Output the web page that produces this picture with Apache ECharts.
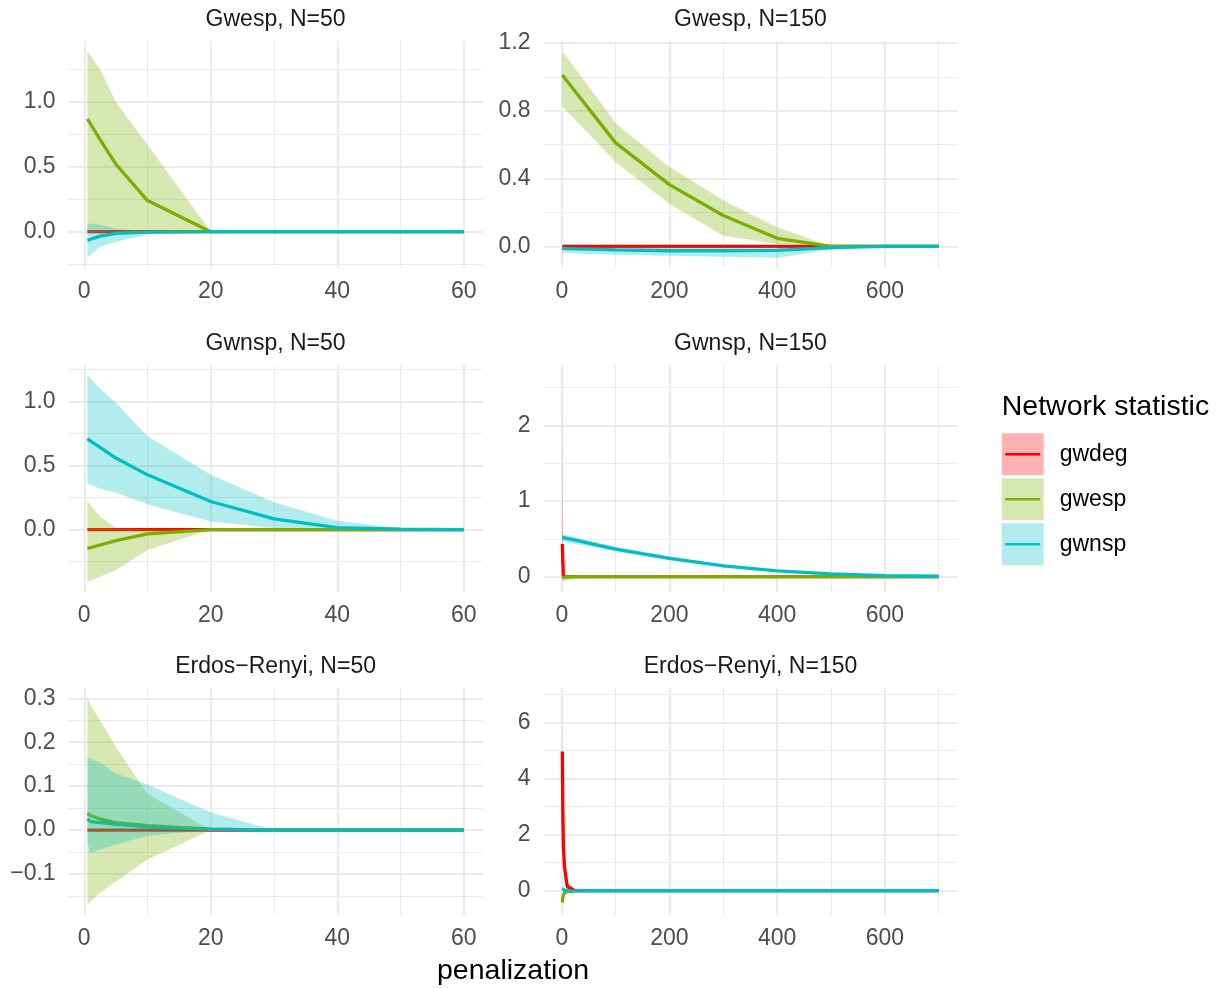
<!DOCTYPE html>
<html><head><meta charset="utf-8">
<script src="https://cdn.jsdelivr.net/npm/echarts@6/dist/echarts.min.js"></script>
<style>html,body{margin:0;padding:0;background:#fff}#c{width:1227px;height:988px}</style>
</head><body><div id="c"></div>
<script>
// ---------- data ----------
const statistics = ['gwdeg', 'gwesp', 'gwnsp'];
const panelTitles = ['Gwesp, N=50', 'Gwesp, N=150', 'Gwnsp, N=50', 'Gwnsp, N=150', 'Erdos\u2212Renyi, N=50', 'Erdos\u2212Renyi, N=150'];
const xTitle = 'penalization';
const legendTitle = 'Network statistic';

const penalty50 = [0.5, 1, 2.5, 5, 10, 20, 30, 40, 50, 60];
const penalty150 = [1, 2, 3, 5, 10, 25, 50, 100, 200, 300, 400, 500, 600, 700];

// Panel 1: Gwesp, N=50
const gwespN50_gwdeg_est = [0, 0, 0, 0, 0, 0, 0, 0, 0, 0];
const gwespN50_gwdeg_lo  = [-0.003, -0.002, -0.001, 0, 0, 0, 0, 0, 0, 0];
const gwespN50_gwdeg_hi  = [0.003, 0.002, 0.001, 0, 0, 0, 0, 0, 0, 0];
const gwespN50_gwesp_est = [0.87, 0.83, 0.71, 0.52, 0.24, 0.0, 0, 0, 0, 0];
const gwespN50_gwesp_lo  = [0, 0, 0, 0, 0, 0, 0, 0, 0, 0];
const gwespN50_gwesp_hi  = [1.39, 1.355, 1.25, 1.0, 0.67, 0.0, 0, 0, 0, 0];
const gwespN50_gwnsp_est = [-0.067, -0.058, -0.034, -0.013, -0.003, 0, 0, 0, 0, 0];
const gwespN50_gwnsp_lo  = [-0.2, -0.178, -0.115, -0.077, -0.02, 0, 0, 0, 0, 0];
const gwespN50_gwnsp_hi  = [0.064, 0.062, 0.055, 0.023, 0.005, 0, 0, 0, 0, 0];

// Panel 2: Gwesp, N=150
const gwespN150_gwdeg_est = [0, 0, 0, 0, 0, 0, 0, 0, 0, 0, 0, 0, 0, 0];
const gwespN150_gwdeg_lo  = [-0.06, -0.01, 0, 0, 0, 0, 0, 0, 0, 0, 0, 0, 0, 0];
const gwespN150_gwdeg_hi  = [0.01, 0, 0, 0, 0, 0, 0, 0, 0, 0, 0, 0, 0, 0];
const gwespN150_gwesp_est = [1.01, 1.006, 1.002, 0.994, 0.974, 0.913, 0.812, 0.61, 0.364, 0.182, 0.047, 0.0, 0.0, 0.0];
const gwespN150_gwesp_lo  = [0.824, 0.821, 0.818, 0.811, 0.795, 0.746, 0.664, 0.498, 0.251, 0.063, 0.014, 0.0, 0.0, 0.0];
const gwespN150_gwesp_hi  = [1.15, 1.146, 1.141, 1.133, 1.112, 1.048, 0.942, 0.726, 0.468, 0.271, 0.113, 0.0, 0.0, 0.0];
const gwespN150_gwnsp_est = [-0.01, -0.011, -0.011, -0.012, -0.013, -0.015, -0.017, -0.021, -0.026, -0.026, -0.024, -0.008, 0, 0];
const gwespN150_gwnsp_lo  = [-0.035, -0.036, -0.037, -0.038, -0.04, -0.043, -0.046, -0.05, -0.055, -0.062, -0.067, -0.02, 0, 0];
const gwespN150_gwnsp_hi  = [-0.002, -0.002, -0.002, -0.002, -0.003, -0.004, -0.005, -0.006, -0.006, -0.005, -0.004, -0.002, 0, 0];

// Panel 3: Gwnsp, N=50
const gwnspN50_gwdeg_est = [0, 0, 0, 0, 0, 0, 0, 0, 0, 0];
const gwnspN50_gwdeg_lo  = [0, 0, 0, 0, 0, 0, 0, 0, 0, 0];
const gwnspN50_gwdeg_hi  = [0, 0, 0, 0, 0, 0, 0, 0, 0, 0];
const gwnspN50_gwesp_est = [-0.146, -0.14, -0.12, -0.086, -0.034, 0, 0, 0, 0, 0];
const gwnspN50_gwesp_lo  = [-0.406, -0.395, -0.367, -0.315, -0.159, 0, 0, 0, 0, 0];
const gwnspN50_gwesp_hi  = [0.224, 0.19, 0.1, 0.01, 0.0, 0, 0, 0, 0, 0];
const gwnspN50_gwnsp_est = [0.709, 0.69, 0.642, 0.558, 0.427, 0.219, 0.084, 0.016, 0.003, 0.0];
const gwnspN50_gwnsp_lo  = [0.357, 0.347, 0.318, 0.29, 0.198, 0.064, 0.012, 0.0, 0.0, 0.0];
const gwnspN50_gwnsp_hi  = [1.203, 1.18, 1.1, 0.99, 0.727, 0.427, 0.214, 0.07, 0.01, 0.0];

// Panel 4: Gwnsp, N=150
const gwnspN150_gwdeg_est = [0.43, 0.2, 0.0, 0, 0, 0, 0, 0, 0, 0, 0, 0, 0, 0];
const gwnspN150_gwdeg_lo  = [-0.05, -0.02, 0, 0, 0, 0, 0, 0, 0, 0, 0, 0, 0, 0];
const gwnspN150_gwdeg_hi  = [2.66, 1.0, 0.05, 0, 0, 0, 0, 0, 0, 0, 0, 0, 0, 0];
const gwnspN150_gwesp_est = [-0.02, -0.015, -0.01, -0.006, -0.003, -0.001, 0, 0, 0, 0, 0, 0, 0, 0];
const gwnspN150_gwesp_lo  = [-0.067, -0.064, -0.062, -0.058, -0.05, -0.025, -0.005, 0, 0, 0, 0, 0, 0, 0];
const gwnspN150_gwesp_hi  = [0.01, 0.008, 0.006, 0.004, 0.002, 0, 0, 0, 0, 0, 0, 0, 0, 0];
const gwnspN150_gwnsp_est = [0.518, 0.517, 0.516, 0.513, 0.504, 0.481, 0.442, 0.364, 0.24, 0.142, 0.076, 0.036, 0.014, 0.005];
const gwnspN150_gwnsp_lo  = [0.465, 0.464, 0.463, 0.46, 0.452, 0.433, 0.4, 0.334, 0.218, 0.126, 0.065, 0.029, 0.01, 0.003];
const gwnspN150_gwnsp_hi  = [0.563, 0.562, 0.561, 0.557, 0.547, 0.521, 0.478, 0.394, 0.262, 0.158, 0.087, 0.043, 0.018, 0.007];

// Panel 5: Erdos-Renyi, N=50
const erN50_gwdeg_est = [0, 0, 0, 0, 0, 0, 0, 0, 0, 0];
const erN50_gwdeg_lo  = [0, 0, 0, 0, 0, 0, 0, 0, 0, 0];
const erN50_gwdeg_hi  = [0, 0, 0, 0, 0, 0, 0, 0, 0, 0];
const erN50_gwesp_est = [0.038, 0.033, 0.025, 0.017, 0.01, 0.002, 0, 0, 0, 0];
const erN50_gwesp_lo  = [-0.17, -0.163, -0.143, -0.117, -0.067, 0, 0, 0, 0, 0];
const erN50_gwesp_hi  = [0.3, 0.285, 0.25, 0.189, 0.082, 0, 0, 0, 0, 0];
const erN50_gwnsp_est = [0.026, 0.019, 0.017, 0.013, 0.007, 0.002, 0, 0, 0, 0];
const erN50_gwnsp_lo  = [-0.03, -0.052, -0.045, -0.033, -0.013, 0, 0, 0, 0, 0];
const erN50_gwnsp_hi  = [0.166, 0.163, 0.153, 0.129, 0.104, 0.04, 0, 0, 0, 0];

// Panel 6: Erdos-Renyi, N=150
const erN150_gwdeg_est = [4.97, 2.76, 1.6, 0.86, 0.15, 0.0, 0, 0, 0, 0, 0, 0, 0, 0];
const erN150_gwdeg_lo  = [3.2, 1.7, 0.9, 0.45, 0.06, 0, 0, 0, 0, 0, 0, 0, 0, 0];
const erN150_gwdeg_hi  = [6.87, 3.9, 2.3, 1.2, 0.3, 0.02, 0, 0, 0, 0, 0, 0, 0, 0];
const erN150_gwesp_est = [-0.42, -0.25, -0.17, -0.08, -0.03, -0.005, 0, 0, 0, 0, 0, 0, 0, 0];
const erN150_gwesp_lo  = [-0.5, -0.33, -0.23, -0.11, -0.045, -0.01, 0, 0, 0, 0, 0, 0, 0, 0];
const erN150_gwesp_hi  = [-0.3, -0.17, -0.11, -0.05, -0.015, 0, 0, 0, 0, 0, 0, 0, 0, 0];
const erN150_gwnsp_est = [0.08, 0.05, 0.03, 0.02, 0.005, 0, 0, 0, 0, 0, 0, 0, 0, 0];
const erN150_gwnsp_lo  = [-0.05, -0.04, -0.03, -0.015, -0.005, 0, 0, 0, 0, 0, 0, 0, 0, 0];
const erN150_gwnsp_hi  = [0.22, 0.15, 0.1, 0.06, 0.02, 0, 0, 0, 0, 0, 0, 0, 0, 0];

// ---------- assembly ----------
const panelData = [
  { x: penalty50,  gwdeg: [gwespN50_gwdeg_est, gwespN50_gwdeg_lo, gwespN50_gwdeg_hi], gwesp: [gwespN50_gwesp_est, gwespN50_gwesp_lo, gwespN50_gwesp_hi], gwnsp: [gwespN50_gwnsp_est, gwespN50_gwnsp_lo, gwespN50_gwnsp_hi] },
  { x: penalty150, gwdeg: [gwespN150_gwdeg_est, gwespN150_gwdeg_lo, gwespN150_gwdeg_hi], gwesp: [gwespN150_gwesp_est, gwespN150_gwesp_lo, gwespN150_gwesp_hi], gwnsp: [gwespN150_gwnsp_est, gwespN150_gwnsp_lo, gwespN150_gwnsp_hi] },
  { x: penalty50,  gwdeg: [gwnspN50_gwdeg_est, gwnspN50_gwdeg_lo, gwnspN50_gwdeg_hi], gwesp: [gwnspN50_gwesp_est, gwnspN50_gwesp_lo, gwnspN50_gwesp_hi], gwnsp: [gwnspN50_gwnsp_est, gwnspN50_gwnsp_lo, gwnspN50_gwnsp_hi] },
  { x: penalty150, gwdeg: [gwnspN150_gwdeg_est, gwnspN150_gwdeg_lo, gwnspN150_gwdeg_hi], gwesp: [gwnspN150_gwesp_est, gwnspN150_gwesp_lo, gwnspN150_gwesp_hi], gwnsp: [gwnspN150_gwnsp_est, gwnspN150_gwnsp_lo, gwnspN150_gwnsp_hi] },
  { x: penalty50,  gwdeg: [erN50_gwdeg_est, erN50_gwdeg_lo, erN50_gwdeg_hi], gwesp: [erN50_gwesp_est, erN50_gwesp_lo, erN50_gwesp_hi], gwnsp: [erN50_gwnsp_est, erN50_gwnsp_lo, erN50_gwnsp_hi] },
  { x: penalty150, gwdeg: [erN150_gwdeg_est, erN150_gwdeg_lo, erN150_gwdeg_hi], gwesp: [erN150_gwesp_est, erN150_gwesp_lo, erN150_gwesp_hi], gwnsp: [erN150_gwnsp_est, erN150_gwnsp_lo, erN150_gwnsp_hi] }
];

// ---------- styling / layout ----------
const FONT = '"Liberation Sans", Arial, Helvetica, sans-serif';
const lineColor = { gwdeg: '#FF0000', gwesp: '#7CAE00', gwnsp: '#00BFC4' };
const fillColor = { gwdeg: 'rgba(255,0,0,0.3)', gwesp: 'rgba(124,174,0,0.3)', gwnsp: 'rgba(0,191,196,0.3)' };
const COL_LEFT = [68.6, 543.5], COL_W = 414;
const ROW_TOP = [41, 365, 688], ROW_H = 227;
const xStep = [20, 200, 20, 200, 20, 200];
const yStep = [0.5, 0.4, 0.5, 1, 0.1, 2];
const yDec  = [1, 1, 1, 0, 1, 0];

function fmt(v, dec) {
  if (Math.abs(v) < 1e-9) v = 0;
  return v.toFixed(dec).replace('-', '\u2212');
}
function expand(arrs) {
  let lo = Infinity, hi = -Infinity;
  arrs.forEach(a => a.forEach(v => { if (v < lo) lo = v; if (v > hi) hi = v; }));
  const pad = (hi - lo) * 0.05;
  return [lo - pad, hi + pad];
}

const grids = [], xAxes = [], yAxes = [], series = [], titles = [];
const gridLine = { show: true, showMinLine: false, showMaxLine: false, lineStyle: { color: '#EBEBEB', width: 2.2 } };
const minorLine = { show: true, lineStyle: { color: '#EBEBEB', width: 1.1 } };

panelData.forEach((p, i) => {
  const col = i % 2, row = Math.floor(i / 2);
  grids.push({ left: COL_LEFT[col], top: ROW_TOP[row], width: COL_W, height: ROW_H, show: false, outerBoundsMode: 'none' });
  const xr = expand([p.x]);
  const yr = expand(statistics.flatMap(s => p[s]));
  xAxes.push({
    type: 'value', gridIndex: i, min: xr[0], max: xr[1], minInterval: xStep[i], maxInterval: xStep[i],
    axisLine: { show: false }, axisTick: { show: false },
    axisLabel: { showMinLabel: false, showMaxLabel: false, fontSize: 23, color: '#4D4D4D', fontFamily: FONT, margin: 12, formatter: v => fmt(v, 0) },
    splitLine: gridLine, minorTick: { show: false, splitNumber: 2 }, minorSplitLine: minorLine
  });
  yAxes.push({
    type: 'value', gridIndex: i, min: yr[0], max: yr[1], minInterval: yStep[i], maxInterval: yStep[i],
    axisLine: { show: false }, axisTick: { show: false },
    axisLabel: { showMinLabel: false, showMaxLabel: false, fontSize: 23, color: '#4D4D4D', fontFamily: FONT, margin: 13, padding: [3, 0, 0, 0], formatter: v => fmt(v, yDec[i]) },
    splitLine: gridLine, minorTick: { show: false, splitNumber: 2 }, minorSplitLine: minorLine
  });
  titles.push({
    text: panelTitles[i], left: COL_LEFT[col] + COL_W / 2, top: ROW_TOP[row] - 21.5, padding: 0,
    textAlign: 'center', textVerticalAlign: 'middle',
    textStyle: { fontSize: 23, fontWeight: 'normal', color: '#1A1A1A', fontFamily: FONT }
  });
  statistics.forEach(s => {
    const est = p[s][0];
    series.push({
      type: 'line', name: s, xAxisIndex: i, yAxisIndex: i, z: 2, silent: true,
      data: p.x.map((xv, k) => [xv, est[k]]),
      symbol: 'none', showSymbol: false,
      lineStyle: { color: lineColor[s], width: 3.3 }, itemStyle: { color: lineColor[s] }
    });
  });
  statistics.forEach(s => {
    const lo = p[s][1], hi = p[s][2], xs = p.x;
    series.push({
      type: 'custom', name: s, xAxisIndex: i, yAxisIndex: i, z: 3, silent: true,
      data: [[xs[0], hi[0]]],
      renderItem: function (params, api) {
        if (params.dataIndex !== 0) return null;
        const pts = [];
        for (let k = 0; k < xs.length; k++) pts.push(api.coord([xs[k], hi[k]]));
        for (let k = xs.length - 1; k >= 0; k--) pts.push(api.coord([xs[k], lo[k]]));
        return { type: 'polygon', shape: { points: pts }, style: { fill: fillColor[s], stroke: null } };
      }
    });
  });
});

titles.push({
  text: xTitle, left: (COL_LEFT[0] + COL_LEFT[1] + COL_W) / 2, top: 971, padding: 0,
  textAlign: 'center', textVerticalAlign: 'middle',
  textStyle: { fontSize: 28.5, fontWeight: 'normal', color: '#000', fontFamily: FONT }
});
titles.push({
  text: legendTitle, left: 1001.7, top: 407, padding: 0,
  textAlign: 'left', textVerticalAlign: 'middle',
  textStyle: { fontSize: 28.5, fontWeight: 'normal', color: '#000', fontFamily: FONT }
});

const lineIcon = 'path://M0,0M42,42M3.5,19.8L38.5,19.8L38.5,22.2L3.5,22.2Z';
const option = {
  animation: false,
  backgroundColor: '#fff',
  title: titles,
  grid: grids, xAxis: xAxes, yAxis: yAxes, series: series,
  legend: [
    {
      orient: 'vertical', left: 1001.7, top: 433.3, padding: 0, itemWidth: 42, itemHeight: 42, itemGap: 3,
      selectedMode: false,
      data: statistics.map(s => ({ name: s, icon: 'rect', itemStyle: { color: fillColor[s], borderWidth: 0 } })),
      textStyle: { fontSize: 23, color: '#000', fontFamily: FONT, padding: [4, 0, 0, 11] }
    },
    {
      orient: 'vertical', left: 1001.7, top: 433.3, padding: 0, itemWidth: 42, itemHeight: 42, itemGap: 3,
      selectedMode: false, formatter: () => '',
      data: statistics.map(s => ({ name: s, icon: lineIcon, itemStyle: { color: lineColor[s], borderWidth: 0 } })),
      textStyle: { fontSize: 23 }
    }
  ]
};
const chart = echarts.init(document.getElementById('c'), null, { renderer: 'canvas' });
chart.setOption(option);
</script></body></html>
